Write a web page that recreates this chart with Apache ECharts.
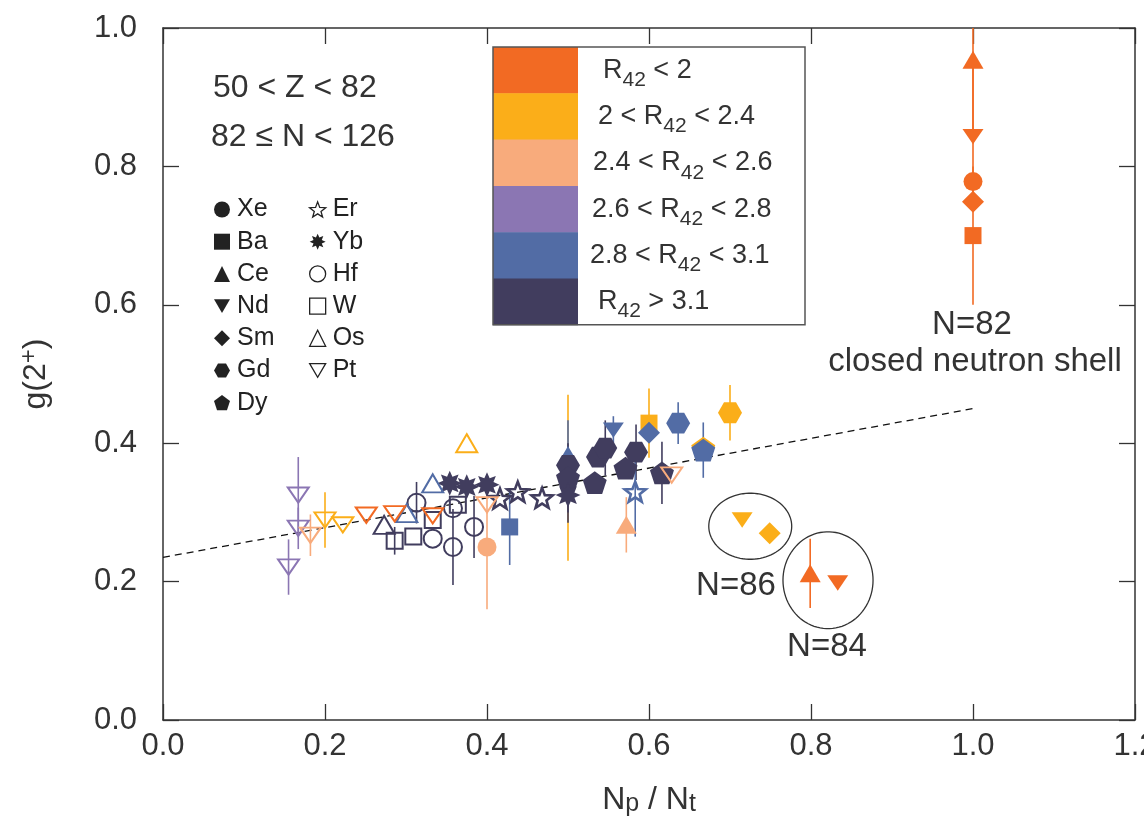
<!DOCTYPE html>
<html>
<head>
<meta charset="utf-8">
<script src="https://cdn.jsdelivr.net/npm/echarts@6/dist/echarts.min.js"></script>
<style>
  html, body { margin: 0; background: #fff; }
  #main { width: 1144px; height: 818px; }
</style>
</head>
<body>
<div id="main"></div>
<script>
// R42 ranges and their colours
var rangeColors = ['#F26A23', '#FBAE19', '#F8AB7C', '#8B76B3', '#526CA5', '#413D5E'];
var rangeTexts = [
  ['', ' < 2'], ['2 < ', ' < 2.4'], ['2.4 < ', ' < 2.6'],
  ['2.6 < ', ' < 2.8'], ['2.8 < ', ' < 3.1'], ['', ' > 3.1']
];

// each point: [Np/Nt, g(2+), error, colour class]
var xe = [[1.0, 0.778, 0, 0], [0.40, 0.25, 0.09, 2], [0.50, 0.35, 0.12, 1]];
var ba = [[1.0, 0.70, 0.10, 0], [0.428, 0.279, 0.055, 4], [0.60, 0.429, 0.05, 1]];
var ce = [[1.0, 0.954, 0.10, 0], [0.799, 0.212, 0.05, 0], [0.50, 0.383, 0.05, 4], [0.572, 0.282, 0.04, 2]];
var nd = [[1.0, 0.843, 0.10, 0], [0.715, 0.289, 0, 1], [0.833, 0.198, 0, 0], [0.556, 0.419, 0.02, 4]];
var sm = [[1.0, 0.749, 0, 0], [0.749, 0.270, 0, 1], [0.60, 0.415, 0, 4]];
var gd = [[0.50, 0.368, 0, 5], [0.537, 0.38, 0, 5], [0.546, 0.393, 0.04, 5], [0.584, 0.387, 0.04, 5],
          [0.636, 0.429, 0.03, 4], [0.70, 0.444, 0.04, 1]];
var dy = [[0.50, 0.35, 0.05, 5], [0.533, 0.343, 0, 5], [0.571, 0.364, 0, 5], [0.616, 0.357, 0.045, 5],
          [0.667, 0.393, 0, 1], [0.667, 0.39, 0.04, 4]];
var er = [[0.416, 0.32, 0, 5], [0.438, 0.33, 0, 5], [0.468, 0.321, 0, 5], [0.583, 0.33, 0.065, 4]];
var yb = [[0.354, 0.342, 0, 5], [0.375, 0.337, 0, 5], [0.40, 0.34, 0, 5], [0.50, 0.325, 0.04, 5]];
var hf = [[0.313, 0.314, 0.03, 5], [0.333, 0.262, 0, 5], [0.358, 0.306, 0, 5], [0.358, 0.25, 0.055, 5],
          [0.384, 0.279, 0.045, 5]];
var w = [[0.286, 0.259, 0.02, 5], [0.309, 0.265, 0, 5], [0.333, 0.289, 0, 5], [0.364, 0.311, 0, 5]];
var os = [[0.273, 0.282, 0, 5], [0.301, 0.299, 0, 4], [0.333, 0.342, 0, 4], [0.375, 0.40, 0, 1]];
var pt = [[0.155, 0.221, 0.04, 3], [0.167, 0.277, 0.03, 3], [0.167, 0.325, 0.055, 3], [0.182, 0.267, 0.03, 2],
          [0.20, 0.289, 0.04, 1], [0.222, 0.282, 0, 1], [0.251, 0.296, 0, 0], [0.286, 0.298, 0, 0],
          [0.333, 0.295, 0, 0], [0.40, 0.311, 0, 2], [0.628, 0.354, 0, 2]];

// linear fit and the two circled groups [cx, cy, rx, ry]
var fitLine = [[0, 0.235], [1.0, 0.45]];
var circled = [[0.725, 0.280, 0.0512, 0.0477], [0.821, 0.202, 0.0556, 0.070]];

var FONT = '"Liberation Sans", Arial, Helvetica, sans-serif';
var TXT = '#333';

function polyPath(n, ro, ri, rot) {
  var d = '';
  var k = ri ? 2 * n : n;
  for (var i = 0; i < k; i++) {
    var r = (ri && i % 2) ? ri : ro;
    var a = Math.PI * 2 * i / k + rot;
    d += (i ? 'L' : 'M') + (r * Math.cos(a)).toFixed(2) + ',' + (r * Math.sin(a)).toFixed(2);
  }
  return 'path://' + d + 'Z';
}
var DOWN = 'path://M0,0L20,0L10,17Z';
var HEX = polyPath(6, 10, 0, 0);
var PENT = polyPath(5, 10, 0, -Math.PI / 2);
var STAR = polyPath(5, 10, 4.2, -Math.PI / 2);
var BURST = polyPath(8, 10, 5.6, -Math.PI / 2);

var elements = [
  { name: 'Xe', data: xe, symbol: 'circle', size: 19 },
  { name: 'Ba', data: ba, symbol: 'rect', size: 17 },
  { name: 'Ce', data: ce, symbol: 'triangle', size: [21, 18] },
  { name: 'Nd', data: nd, symbol: DOWN, size: [21, 18] },
  { name: 'Sm', data: sm, symbol: 'diamond', size: 22 },
  { name: 'Gd', data: gd, symbol: HEX, size: 24 },
  { name: 'Dy', data: dy, symbol: PENT, size: 24 },
  { name: 'Er', data: er, symbol: STAR, size: 21, open: true },
  { name: 'Yb', data: yb, symbol: BURST, size: 25 },
  { name: 'Hf', data: hf, symbol: 'circle', size: 18, open: true },
  { name: 'W', data: w, symbol: 'rect', size: 16, open: true },
  { name: 'Os', data: os, symbol: 'triangle', size: [21, 18], open: true },
  { name: 'Pt', data: pt, symbol: DOWN, size: [21, 18], open: true }
];

var errBars = [];
elements.forEach(function (el) {
  el.data.forEach(function (p) {
    if (p[2] > 0) errBars.push([p[0], p[1] - p[2], p[1] + p[2], p[3]]);
  });
});

var scatterSeries = elements.map(function (el) {
  return {
    name: el.name,
    type: 'scatter',
    symbol: el.symbol,
    symbolSize: el.size,
    symbolKeepAspect: true,
    z: 3,
    clip: true,
    data: el.data.map(function (p) {
      var c = rangeColors[p[3]];
      return {
        value: [p[0], p[1]],
        itemStyle: el.open
          ? { color: 'rgba(255,255,255,0)', borderColor: c, borderWidth: el.name === 'Er' ? 2.6 : 2, opacity: 1 }
          : { color: c, borderWidth: 0, opacity: 1 }
      };
    })
  };
});

function legendData(names) {
  return names.map(function (n) {
    var el = elements.filter(function (e) { return e.name === n; })[0];
    return {
      name: n,
      icon: el.symbol,
      itemStyle: el.open
        ? { color: '#fff', borderColor: '#222', borderWidth: 1.3, opacity: 1 }
        : { color: '#222', borderWidth: 0, opacity: 1 }
    };
  });
}
var legendBase = {
  orient: 'vertical', top: 197, padding: 0, itemWidth: 16, itemHeight: 16, itemGap: 7.2,
  selectedMode: false, symbolKeepAspect: true,
  textStyle: { fontSize: 25, color: '#222', fontFamily: FONT, lineHeight: 24, padding: [0, 0, 0, 2] }
};

// colour key box
var keyGraphics = [];
var boxX = 493, boxY = 47, rowH = 46.3, swW = 85, boxW = 312;
rangeColors.forEach(function (c, i) {
  keyGraphics.push({ type: 'rect', shape: { x: boxX, y: boxY + i * rowH, width: swW, height: rowH + 0.5 },
    style: { fill: c }, z: 10 });
  var t = rangeTexts[i];
  keyGraphics.push({ type: 'text', x: [603, 598, 593, 592, 590, 598][i], y: boxY + i * rowH + rowH / 2, z: 11,
    style: {
      text: (t[0] ? '{a|' + t[0] + '}' : '') + '{a|R}{b|42}{a|' + t[1] + '}',
      verticalAlign: 'middle', align: 'left',
      rich: {
        a: { fontSize: 27, fontFamily: FONT, fill: TXT, lineHeight: 30 },
        b: { fontSize: 21, fontFamily: FONT, fill: TXT, padding: [20, 0, 0, 0] }
      }
    } });
});
keyGraphics.push({ type: 'rect', shape: { x: boxX, y: boxY, width: boxW, height: rowH * 6 },
  style: { fill: 'none', stroke: '#555', lineWidth: 1.5 }, z: 12 });

function label(text, x, y, size, align) {
  return { type: 'text', x: x, y: y, z: 10,
    style: { text: text, fontSize: size, fontFamily: FONT, fill: TXT, align: align || 'center', verticalAlign: 'middle' } };
}

function frameAxis(extra) {
  return Object.assign({
    type: 'value',
    axisLine: { onZero: false, lineStyle: { color: '#333', width: 1.5 } },
    axisTick: { inside: true, length: 16, lineStyle: { color: '#333', width: 1.3 } },
    splitLine: { show: false }
  }, extra);
}

var chart = echarts.init(document.getElementById('main'));
chart.setOption({
  animation: false,
  backgroundColor: '#fff',
  grid: { left: 163, right: 9, top: 28, bottom: 98, outerBoundsMode: 'none' },
  xAxis: [frameAxis({
    min: 0, max: 1.2, interval: 0.2, position: 'bottom',
    name: '{a|N}{b|p}{a| / N}{b|t}', nameLocation: 'middle', nameGap: 63,
    nameTextStyle: { rich: {
      a: { fontSize: 32, fontFamily: FONT, color: TXT, lineHeight: 34 },
      b: { fontSize: 25, fontFamily: FONT, color: TXT, padding: [8, 0, 0, 0] }
    } },
    axisLabel: { fontSize: 31, fontFamily: FONT, color: TXT, margin: 11,
      formatter: function (v) { return v.toFixed(1); } }
  }), frameAxis({
    min: 0, max: 1.2, interval: 0.2, position: 'top', axisLabel: { show: false }
  })],
  yAxis: [frameAxis({
    min: 0, max: 1.0, interval: 0.2, position: 'left',
    name: '{a|g(2}{c|+}{a|)}', nameLocation: 'middle', nameGap: 108,
    nameTextStyle: { rich: {
      a: { fontSize: 32, fontFamily: FONT, color: TXT, lineHeight: 34 },
      c: { fontSize: 24, fontFamily: FONT, color: TXT, padding: [0, 0, 14, 0] }
    } },
    axisLabel: { fontSize: 31, fontFamily: FONT, color: TXT, margin: 26,
      formatter: function (v) { return v.toFixed(1); } }
  }), frameAxis({
    min: 0, max: 1.0, interval: 0.2, position: 'right', axisLabel: { show: false }
  })],
  legend: [
    Object.assign({}, legendBase, { left: 214, data: legendData(['Xe', 'Ba', 'Ce', 'Nd', 'Sm', 'Gd', 'Dy']) }),
    Object.assign({}, legendBase, { left: 309, data: legendData(['Er', 'Yb', 'Hf', 'W', 'Os', 'Pt']) })
  ],
  graphic: keyGraphics.concat([
    label('50 < Z < 82', 213, 88, 32, 'left'),
    label('82 \u2264 N < 126', 211, 137, 32, 'left'),
    label('N=82', 972, 325, 33),
    label('closed neutron shell', 975, 362, 33),
    label('N=86', 736, 586, 33),
    label('N=84', 827, 647, 33)
  ]),
  series: [{
    name: 'fit', type: 'line', data: fitLine, symbol: 'none', z: 1, silent: true,
    lineStyle: { color: '#111', width: 1.3, type: [7, 5] }
  }, {
    name: 'errors', type: 'custom', z: 2, clip: true, silent: true, data: errBars,
    renderItem: function (params, api) {
      var p1 = api.coord([api.value(0), api.value(1)]);
      var p2 = api.coord([api.value(0), api.value(2)]);
      return { type: 'line', shape: { x1: p1[0], y1: p1[1], x2: p2[0], y2: p2[1] },
        style: { stroke: rangeColors[api.value(3)], lineWidth: 1.6 } };
    }
  }, {
    name: 'groups', type: 'custom', z: 2, silent: true, data: circled,
    renderItem: function (params, api) {
      var c = api.coord([api.value(0), api.value(1)]);
      var s = api.size([api.value(2), api.value(3)]);
      var pts = [];
      for (var i = 0; i < 90; i++) {
        var a = i / 90 * Math.PI * 2;
        pts.push([c[0] + s[0] * Math.cos(a), c[1] + s[1] * Math.sin(a)]);
      }
      return { type: 'polygon', shape: { points: pts }, style: { fill: 'none', stroke: '#333', lineWidth: 1.3 } };
    }
  }].concat(scatterSeries)
});
</script>
</body>
</html>
